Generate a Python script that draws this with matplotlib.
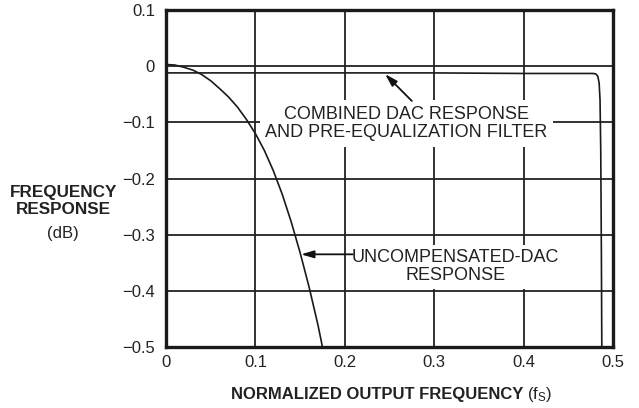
import matplotlib.pyplot as plt

plt.rcParams['font.family'] = ['Liberation Sans', 'DejaVu Sans']
plt.rcParams['mathtext.fontset'] = 'custom'
plt.rcParams['mathtext.rm'] = 'Liberation Sans'
plt.rcParams['mathtext.it'] = 'Liberation Sans'

# uncompensated DAC response (sinc roll-off)
f_unc = [0.0, 0.01, 0.02, 0.03, 0.04, 0.05, 0.06, 0.07, 0.08, 0.09, 0.1,
         0.11, 0.12, 0.13, 0.14, 0.15, 0.16, 0.17, 0.175]
db_unc = [0.003, 0.002, -0.002, -0.007, -0.015, -0.026, -0.04, -0.055, -0.073, -0.095, -0.12,
          -0.15, -0.186, -0.228, -0.277, -0.332, -0.393, -0.461, -0.5]

# combined DAC + pre-equalization filter
f_comb = [0.0, 0.1, 0.2, 0.3, 0.4, 0.478, 0.481, 0.483, 0.4845, 0.4855, 0.4863, 0.487, 0.4875]
db_comb = [-0.012, -0.012, -0.012, -0.012, -0.013, -0.013, -0.014, -0.018, -0.03, -0.06, -0.15, -0.33, -0.5]

xticks = [0, 0.1, 0.2, 0.3, 0.4, 0.5]
xticklabels = ['0', '0.1', '0.2', '0.3', '0.4', '0.5']
yticks = [0.1, 0, -0.1, -0.2, -0.3, -0.4, -0.5]
yticklabels = ['0.1', '0', '\u22120.1', '\u22120.2', '\u22120.3', '\u22120.4', '\u22120.5']

fig = plt.figure(figsize=(6.39, 4.08), dpi=100)
ax = fig.add_axes([0.2598, 0.1495, 0.6995, 0.826])

ax.plot(f_unc, db_unc, color='#1a1a1a', lw=1.2, zorder=4)
ax.plot(f_comb, db_comb, color='#1a1a1a', lw=1.2, zorder=4)

ax.set_xlim(0, 0.5)
ax.set_ylim(-0.5, 0.1)
ax.set_xticks(xticks)
ax.set_xticklabels(xticklabels)
ax.set_yticks(yticks)
ax.set_yticklabels(yticklabels)
ax.tick_params(length=0, labelsize=12, colors='#222222')
ax.tick_params(axis='y', pad=8)
ax.tick_params(axis='x', pad=6)
ax.grid(True, color='#222222', lw=1.3, zorder=1)
ax.set_axisbelow(True)
for s in ax.spines.values():
    s.set_linewidth(2.4)
    s.set_color('#1a1a1a')
    s.set_zorder(5)

ax.text(0.269, -0.102, 'COMBINED DAC RESPONSE\nAND PRE-EQUALIZATION FILTER',
        ha='center', va='center', fontsize=13, color='#222222',
        linespacing=1.1, bbox=dict(boxstyle='square,pad=0.3', fc='white', ec='none'),
        zorder=3)
ax.text(0.3235, -0.357, 'UNCOMPENSATED-DAC\nRESPONSE',
        ha='center', va='center', fontsize=13, color='#222222',
        linespacing=1.1, bbox=dict(boxstyle='square,pad=0.25', fc='white', ec='none'),
        zorder=3)

arrow = dict(arrowstyle='-|>,head_length=0.75,head_width=0.22', color='#111111', lw=1.3,
             shrinkA=0, shrinkB=0)
ax.annotate('', xy=(0.245, -0.014), xytext=(0.275, -0.062), arrowprops=arrow, zorder=6)
ax.annotate('', xy=(0.151, -0.335), xytext=(0.209, -0.335), arrowprops=arrow, zorder=6)

fig.text(0.099, 0.507, 'FREQUENCY\nRESPONSE', ha='center', va='center',
         fontsize=12.3, fontweight='bold', color='#222222', linespacing=1.15)
fig.text(0.099, 0.428, '(dB)', ha='center', va='center', fontsize=12, color='#222222')

fig.text(0.8185, 0.032, 'NORMALIZED OUTPUT FREQUENCY', ha='right', va='center',
         fontsize=12, fontweight='bold', color='#222222')
fig.text(0.825, 0.032, '(f$_\\mathregular{S}$)', ha='left', va='center',
         fontsize=12, color='#222222')

fig.savefig('out.png', dpi=100)
